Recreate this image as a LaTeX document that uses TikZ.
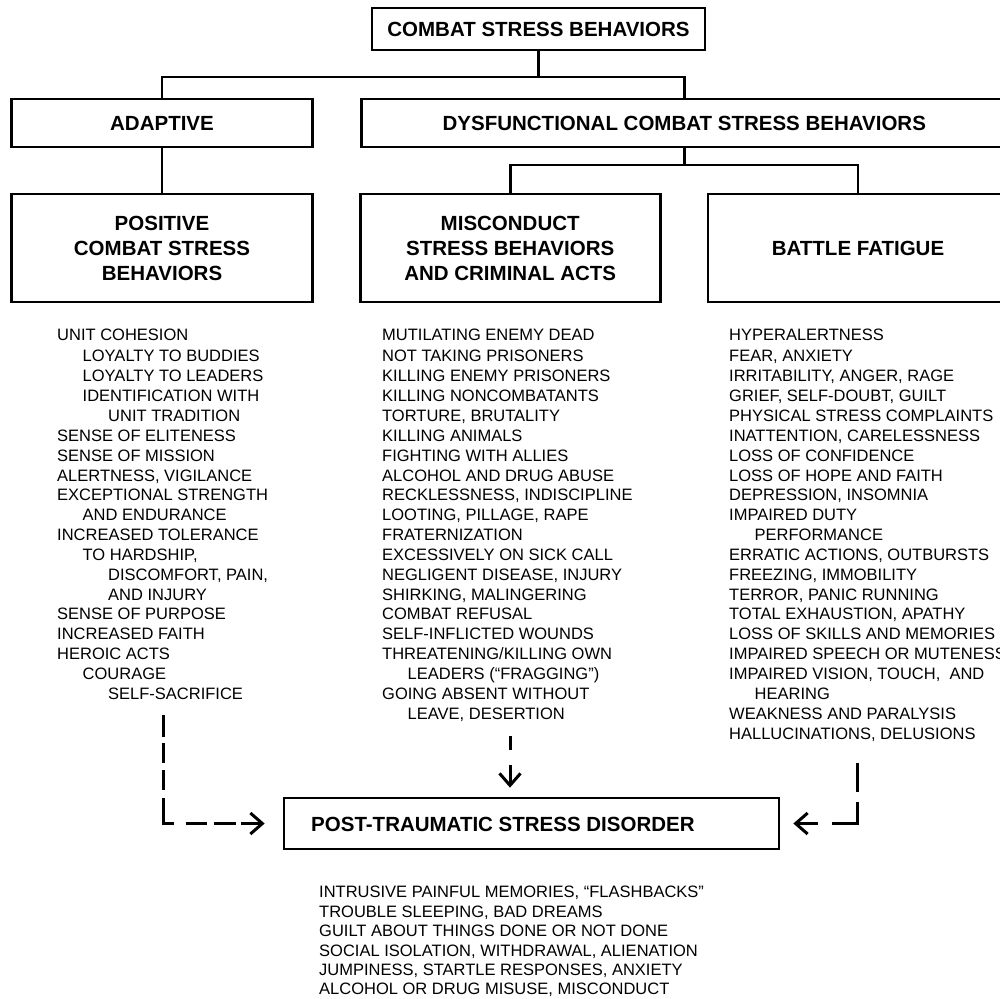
\documentclass[tikz,border=0pt]{standalone}
\usepackage{fontspec}
\setmainfont{Liberation Sans}
\usetikzlibrary{arrows.meta}
\begin{document}
\begin{tikzpicture}[x=1pt,y=-1pt,
  box/.style={draw, line width=2.7pt, inner sep=0pt, align=center,
    font=\fontsize{20.5}{25}\selectfont\bfseries},
  conn/.style={line width=2.7pt},
  item/.style={inner sep=0pt, anchor=base west, font=\fontsize{16.5}{19.85}\selectfont},
  flow/.style={line width=3pt, -{Straight Barb[length=12pt,width=21pt]}}
]
\useasboundingbox (0,0) rectangle (1000,998);
\clip (0,0) rectangle (1000,998);

% boxes
\node[box, minimum width=333pt, minimum height=42pt] (top) at (538.5,29) {COMBAT STRESS BEHAVIORS};
\node[box, minimum width=301pt, minimum height=48pt] (adapt) at (162,123) {ADAPTIVE};
\node[box, minimum width=645pt, minimum height=48pt] (dysf) at (684.3,123) {};
\node[font=\fontsize{20.5}{25}\selectfont\bfseries, inner sep=0pt] (dysft) at (dysf.center) {DYSFUNCTIONAL COMBAT STRESS BEHAVIORS};
\node[box, minimum width=301pt, minimum height=108pt] (pos) at (162,248) {POSITIVE\\COMBAT STRESS\\BEHAVIORS};
\node[box, minimum width=300pt, minimum height=108pt] (misc) at (510.2,248) {MISCONDUCT\\STRESS BEHAVIORS\\AND CRIMINAL ACTS};
\node[box, minimum width=300pt, minimum height=108pt] (bf) at (858,248) {};
\node[font=\fontsize{20.5}{25}\selectfont\bfseries, inner sep=0pt] (bft) at (bf.center) {BATTLE FATIGUE};
\node[box, minimum width=495pt, minimum height=51pt] (ptsd) at (531.5,823.5) {};
\node[font=\fontsize{20.5}{25}\selectfont\bfseries, inner sep=0pt, anchor=west] (ptsdt) at (311,824.5) {POST-TRAUMATIC STRESS DISORDER};

% tree connectors
\coordinate (busA) at (0,77);
\coordinate (busB) at (0,165);
\draw[conn] (top.south) -- (top.south |- busA) -| (adapt.north);
\draw[conn] (top.south |- busA) -| (dysf.north);
\draw[conn] (adapt.south) -- (pos.north);
\draw[conn] (dysf.south) -- (dysf.south |- busB) -| (misc.north);
\draw[conn] (dysf.south |- busB) -| (bf.north);

% left list
\foreach \txt/\ind [count=\n from 0] in {
  UNIT COHESION/0,
  LOYALTY TO BUDDIES/1,
  LOYALTY TO LEADERS/1,
  IDENTIFICATION WITH/1,
  UNIT TRADITION/2,
  SENSE OF ELITENESS/0,
  SENSE OF MISSION/0,
  {ALERTNESS, VIGILANCE}/0,
  EXCEPTIONAL STRENGTH/0,
  AND ENDURANCE/1,
  INCREASED TOLERANCE/0,
  {TO HARDSHIP,}/1,
  {DISCOMFORT, PAIN,}/2,
  AND INJURY/2,
  SENSE OF PURPOSE/0,
  INCREASED FAITH/0,
  HEROIC ACTS/0,
  COURAGE/1,
  SELF-SACRIFICE/2}
{ \pgfmathsetmacro\yy{\n==0 ? 340 : 342.05+19.85*\n}
  \node[item] (L\n) at ({57+25.5*\ind},\yy) {\txt}; }

% middle list
\foreach \txt/\ind [count=\n from 0] in {
  MUTILATING ENEMY DEAD/0,
  NOT TAKING PRISONERS/0,
  KILLING ENEMY PRISONERS/0,
  KILLING NONCOMBATANTS/0,
  {TORTURE, BRUTALITY}/0,
  KILLING ANIMALS/0,
  FIGHTING WITH ALLIES/0,
  ALCOHOL AND DRUG ABUSE/0,
  {RECKLESSNESS, INDISCIPLINE}/0,
  {LOOTING, PILLAGE, RAPE}/0,
  FRATERNIZATION/0,
  EXCESSIVELY ON SICK CALL/0,
  {NEGLIGENT DISEASE, INJURY}/0,
  {SHIRKING, MALINGERING}/0,
  COMBAT REFUSAL/0,
  SELF-INFLICTED WOUNDS/0,
  {THREATENING/KILLING OWN}/0,
  {LEADERS (“FRAGGING”)}/1,
  GOING ABSENT WITHOUT/0,
  {LEAVE, DESERTION}/1}
{ \pgfmathsetmacro\yy{\n==0 ? 340 : 342.05+19.85*\n}
  \node[item] (M\n) at ({382+25.5*\ind},\yy) {\txt}; }

% right list
\foreach \txt/\ind [count=\n from 0] in {
  HYPERALERTNESS/0,
  {FEAR, ANXIETY}/0,
  {IRRITABILITY, ANGER, RAGE}/0,
  {GRIEF, SELF-DOUBT, GUILT}/0,
  PHYSICAL STRESS COMPLAINTS/0,
  {INATTENTION, CARELESSNESS}/0,
  LOSS OF CONFIDENCE/0,
  LOSS OF HOPE AND FAITH/0,
  {DEPRESSION, INSOMNIA}/0,
  IMPAIRED DUTY/0,
  PERFORMANCE/1,
  {ERRATIC ACTIONS, OUTBURSTS}/0,
  {FREEZING, IMMOBILITY}/0,
  {TERROR, PANIC RUNNING}/0,
  {TOTAL EXHAUSTION, APATHY}/0,
  LOSS OF SKILLS AND MEMORIES/0,
  IMPAIRED SPEECH OR MUTENESS/0,
  {IMPAIRED VISION, TOUCH,\ \ AND}/0,
  HEARING/1,
  WEAKNESS AND PARALYSIS/0,
  {HALLUCINATIONS, DELUSIONS}/0}
{ \pgfmathsetmacro\yy{\n==0 ? 340 : 342.05+19.85*\n}
  \node[item] (R\n) at ({729+25.5*\ind},\yy) {\txt}; }

% PTSD list
\foreach \txt [count=\n from 0] in {
  {INTRUSIVE PAINFUL MEMORIES, “FLASHBACKS”},
  {TROUBLE SLEEPING, BAD DREAMS},
  GUILT ABOUT THINGS DONE OR NOT DONE,
  {SOCIAL ISOLATION, WITHDRAWAL, ALIENATION},
  {JUMPINESS, STARTLE RESPONSES, ANXIETY},
  {ALCOHOL OR DRUG MISUSE, MISCONDUCT}}
{ \pgfmathsetmacro\yy{897.9+19.4*\n}
  \node[item] (S\n) at (319,\yy) {\txt}; }

% dashed flows into PTSD
\coordinate (la) at (163,715);
\coordinate (lm) at (510,736);
\coordinate (lr) at (857,763);
\draw[flow, dash pattern=on 22pt off 6pt on 20pt off 7pt on 20pt off 8pt on 36pt off 12pt on 21pt off 7pt on 22pt off 5pt on 40pt off 40pt]
  (la) |- ([xshift=-18pt]ptsd.west);
\draw[flow, dash pattern=on 14pt off 15pt on 40pt off 40pt]
  (lm) -- ([yshift=9pt]ptsd.north -| lm);
\draw[flow, dash pattern=on 29pt off 10pt on 47pt off 14pt on 40pt off 40pt]
  (lr) |- ([xshift=13pt]ptsd.east);
\end{tikzpicture}
\end{document}
